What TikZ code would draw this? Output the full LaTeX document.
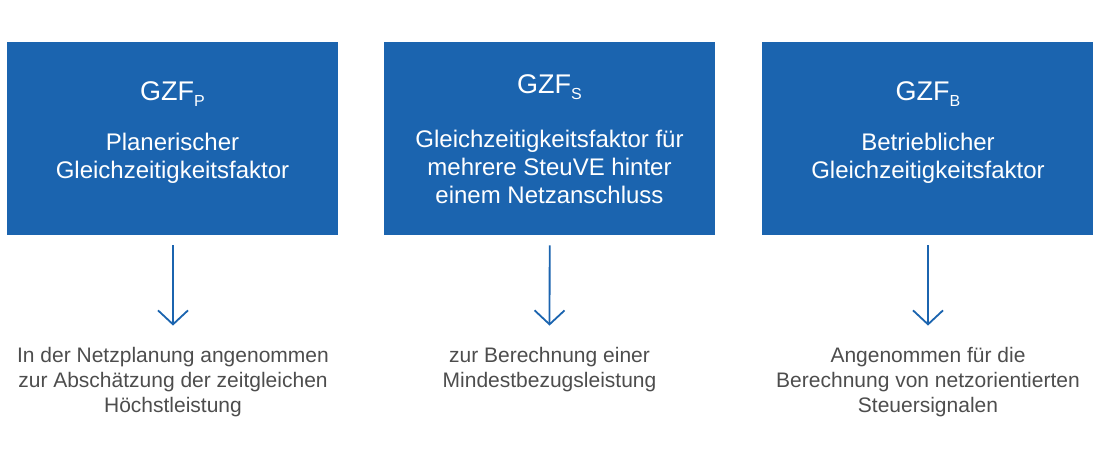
\documentclass[tikz,border=0pt]{standalone}
\usepackage{fontspec}
\setmainfont{Liberation Sans}
\usetikzlibrary{arrows.meta}
\definecolor{boxblue}{RGB}{27,100,175}
\definecolor{txtgrey}{RGB}{77,77,77}
\newcommand{\gzsub}[1]{\raisebox{-6pt}{\fontsize{16}{16}\selectfont #1}}
\begin{document}
\begin{tikzpicture}[x=1pt,y=-1pt,
 gzfbox/.style={fill=boxblue, draw=none, minimum width=331pt, minimum height=193pt, inner sep=0pt, anchor=north west},
 titletext/.style={text=white, font=\fontsize{27}{27}\selectfont, anchor=base, inner sep=0pt},
 bodytext/.style={text=white, font=\fontsize{24}{28}\selectfont, align=center, anchor=base, inner sep=0pt},
 desctext/.style={text=txtgrey, font=\fontsize{21}{25}\selectfont, align=center, anchor=base, inner sep=0pt},
 flow/.style={draw=boxblue, line width=1.8pt, shorten <=10pt, shorten >=21pt, -{Straight Barb[length=14pt,width=30pt,line width=1.8pt]}}
]
\useasboundingbox (0,0) rectangle (1100,450);
% boxes
\node[gzfbox] (b1) at (7,42) {};
\node[gzfbox] (b2) at (384,42) {};
\node[gzfbox] (b3) at (762,42) {};
% titles
\node[titletext] (t1) at (172.5,100) {GZF\gzsub{P}};
\node[titletext] (t2) at (549.5,93) {GZF\gzsub{S}};
\node[titletext] (t3) at (928,100) {GZF\gzsub{B}};
% body texts (anchor base = baseline of last line)
\node[bodytext] (x1) at (172.5,178) {Planerischer\\Gleichzeitigkeitsfaktor};
\node[bodytext] (x2) at (549.5,203) {Gleichzeitigkeitsfaktor für\\mehrere SteuVE hinter\\einem Netzanschluss};
\node[bodytext] (x3) at (928,178) {Betrieblicher\\Gleichzeitigkeitsfaktor};
% descriptions
\node[desctext] (d1) at (173,412) {In der Netzplanung angenommen\\zur Abschätzung der zeitgleichen\\Höchstleistung};
\node[desctext] (d2) at (549.5,387) {zur Berechnung einer\\Mindestbezugsleistung};
\node[desctext] (d3) at (928,412) {Angenommen für die\\Berechnung von netzorientierten\\Steuersignalen};
% arrows
\draw[flow] (b1.south -| d1.north) -- (d1.north);
\draw[flow] (b2.south) -- (d2.north);
\draw[flow] (b3.south -| d3.north) -- (d3.north);
\end{tikzpicture}
\end{document}
